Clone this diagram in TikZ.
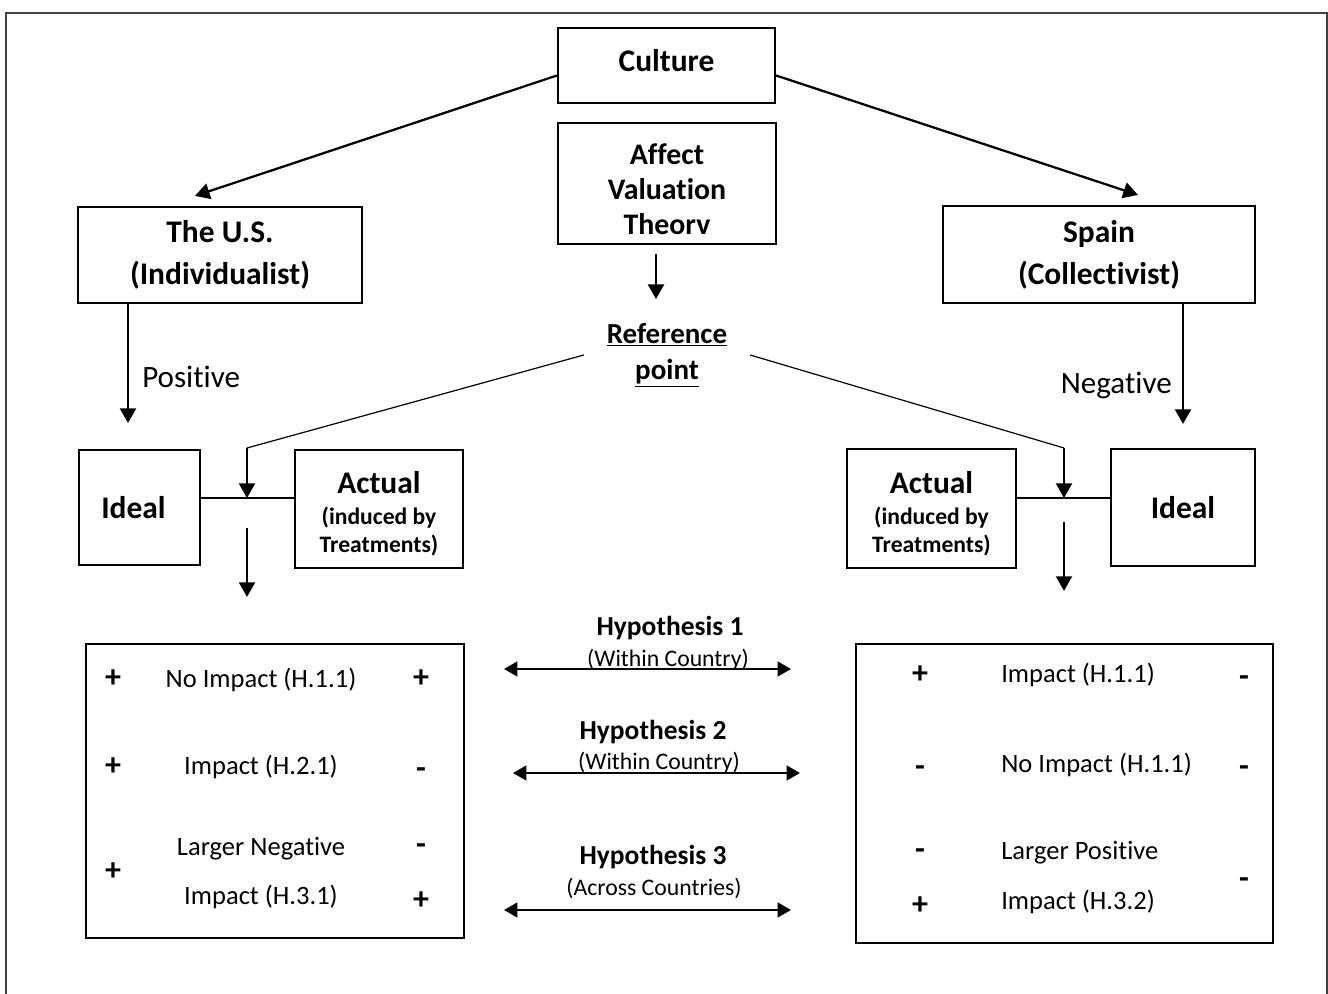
\documentclass[tikz,border=0pt]{standalone}
\usepackage{fontspec}
\setmainfont{Carlito}[Ligatures={NoCommon}]
\usetikzlibrary{arrows.meta,calc}
\tikzset{
  box/.style={draw, line width=1.6pt, inner sep=0pt, align=center},
  big/.style={font=\bfseries\fontsize{23.6}{31.5}\selectfont},
  small/.style={font=\bfseries\fontsize{17.7}{21}\selectfont},
  arr/.style={line width=1.7pt, -{Triangle[length=11pt,width=12pt]}},
  dbl/.style={line width=1.7pt, {Triangle[length=10pt,width=11pt]}-{Triangle[length=10pt,width=11pt]}},
  thinline/.style={line width=0.9pt},
  item/.style={inner sep=0pt, font=\fontsize{19.9}{24}\selectfont},
  sign/.style={inner sep=0pt, font=\bfseries\fontsize{24}{28}\selectfont},
  minus/.style={sign, yshift=-4.5pt},
  hyp/.style={inner sep=0pt, font=\bfseries\fontsize{20.6}{24}\selectfont},
  hypsub/.style={inner sep=0pt, font=\fontsize{17.8}{22}\selectfont}
}
\begin{document}
\begin{tikzpicture}[x=0.75pt, y=-0.75pt]
  \useasboundingbox (0,0) rectangle (1328,994);
  % frame
  \draw[line width=1.5pt, black!75] (6,994) -- (6,13) -- (1327,13) -- (1327,994);

  % top
  \node[box, big, text depth=8pt, minimum width=162.75pt, minimum height=56.25pt] (culture) at (666.5,65.5) {Culture};
  \node[box, font=\bfseries\fontsize{22.4}{26.25}\selectfont, minimum width=163.5pt, minimum height=90.75pt] (avt) at (667,183.5) {\rule{0pt}{24.5pt}Affect\\Valuation\\Theorv};
  \node[font=\bfseries\fontsize{21.75}{27}\selectfont, align=center, inner xsep=17pt, inner ysep=0pt] (ref) at (667,355) {\underline{Reference}\\\underline{point}};

  % countries
  \node[box, big, minimum width=213pt, minimum height=72pt] (us) at (220,255) {The U.S.\\(Individualist)};
  \node[box, big, minimum width=234pt, minimum height=72.75pt] (spain) at (1099,254.5) {Spain\\(Collectivist)};

  % ideal / actual
  \node[box, big, minimum width=90.75pt, minimum height=86.25pt] (idealL) at (139.5,507.5) {Ideal\hspace*{9pt}};
  \node[box, small, minimum width=126pt, minimum height=88.5pt] (actualL) at (379,509)
    {{\fontsize{23.6}{24}\selectfont\rule{0pt}{24pt}Actual}\\[2pt](induced by\\Treatments)};
  \node[box, small, minimum width=126.75pt, minimum height=89.25pt] (actualR) at (931.5,508.5)
    {{\fontsize{23.6}{24}\selectfont\rule{0pt}{24pt}Actual}\\[2pt](induced by\\Treatments)};
  \node[box, big, minimum width=108pt, minimum height=87.75pt] (idealR) at (1183,507.5) {Ideal};

  \coordinate (kl) at (247,448);
  \coordinate (jl) at (247,498);
  \coordinate (kr) at (1064,448);
  \coordinate (jr) at (1064,498);

  % outcome boxes
  \node[box, minimum width=283.5pt, minimum height=220.5pt] (boxL) at (275,791) {};
  \node[box, minimum width=312.75pt, minimum height=224.25pt] (boxR) at (1064.5,793.5) {};

  \node[sign] (l1a) at (113,679) {+};
  \node[item] (l1) at (261,680) {No Impact (H.1.1)};
  \node[sign] (l1b) at (421,679) {+};
  \node[sign] (l2a) at (113,767) {+};
  \node[item] (l2) at (261,767) {Impact (H.2.1)};
  \node[minus] (l2b) at (421,767) {-};
  \node[sign] (l3a) at (113,872) {+};
  \node[item] (l3) at (261,849) {Larger Negative};
  \node[item] (l4) at (261,897) {Impact (H.3.1)};
  \node[minus] (l3b) at (421,843) {-};
  \node[sign] (l3c) at (421,901) {+};

  \node[sign] (r1a) at (920,675) {+};
  \node[item, anchor=west] (r1) at (1001,675) {Impact (H.1.1)};
  \node[minus] (r1b) at (1244,675) {-};
  \node[minus] (r2a) at (920,765) {-};
  \node[item, anchor=west] (r2) at (1001,765) {No Impact (H.1.1)};
  \node[minus] (r2b) at (1244,765) {-};
  \node[minus] (r3a) at (920,848) {-};
  \node[item, anchor=west] (r3) at (1001,853) {Larger Positive};
  \node[item, anchor=west] (r4) at (1001,902) {Impact (H.3.2)};
  \node[sign] (r3c) at (920,906) {+};
  \node[minus] (r3b) at (1244,877) {-};

  % hypotheses
  \node[hyp] (h1) at (670,628) {Hypothesis 1};
  \node[hypsub] (h1s) at (668,660) {(Within Country)};
  \node[hyp] (h2) at (653,732) {Hypothesis 2};
  \node[hypsub] (h2s) at (659,763) {(Within Country)};
  \node[hyp] (h3) at (653,857) {Hypothesis 3};
  \node[hypsub] (h3s) at (654,888) {(Across Countries)};
  \coordinate (a1l) at (504,669);
  \coordinate (a1r) at (791,669);
  \coordinate (a2l) at (513,773);
  \coordinate (a2r) at (800,773);
  \coordinate (a3l) at (504,910);
  \coordinate (a3r) at (791,910);
  \draw[dbl] (a1l) -- (a1r);
  \draw[dbl] (a2l) -- (a2r);
  \draw[dbl] (a3l) -- (a3r);

  % connectors
  \draw[arr] ($(culture.west)+(0,10)$) -- ($(us.north)+(-25,-10)$);
  \draw[arr] ($(culture.east)+(0,10)$) -- ($(spain.north)+(39,-10)$);
  \draw[arr] ($(avt.south)+(-11,9)$) -- ($(avt.south)+(-11,54)$);

  \coordinate (pos) at (128,423);
  \draw[arr] (us.south -| pos) -- (pos);
  \node[anchor=west, inner sep=0pt, font=\fontsize{23.3}{28}\selectfont] (positive) at (142,377) {Positive};
  \draw[arr] (spain.south -| idealR) -- ($(idealR.north)+(0,-24)$);
  \node[anchor=east, inner sep=0pt, font=\fontsize{23.3}{28}\selectfont] (negative) at (1172,385) {Negative};

  \draw[thinline] (ref.west) -- (kl);
  \draw[thinline] (ref.east) -- (kr);
  \draw[arr] (kl) -- (jl);
  \draw[arr] (kr) -- (jr);
  \draw[thinline] (idealL.east |- jl) -- (actualL.west |- jl);
  \draw[thinline] (actualR.east |- jr) -- (idealR.west |- jr);
  \draw[arr] ($(jl)+(0,30)$) -- ($(boxL.north -| jl)+(0,-46)$);
  \draw[arr] ($(jr)+(0,24)$) -- ($(boxR.north -| jr)+(0,-52)$);
\end{tikzpicture}
\end{document}
